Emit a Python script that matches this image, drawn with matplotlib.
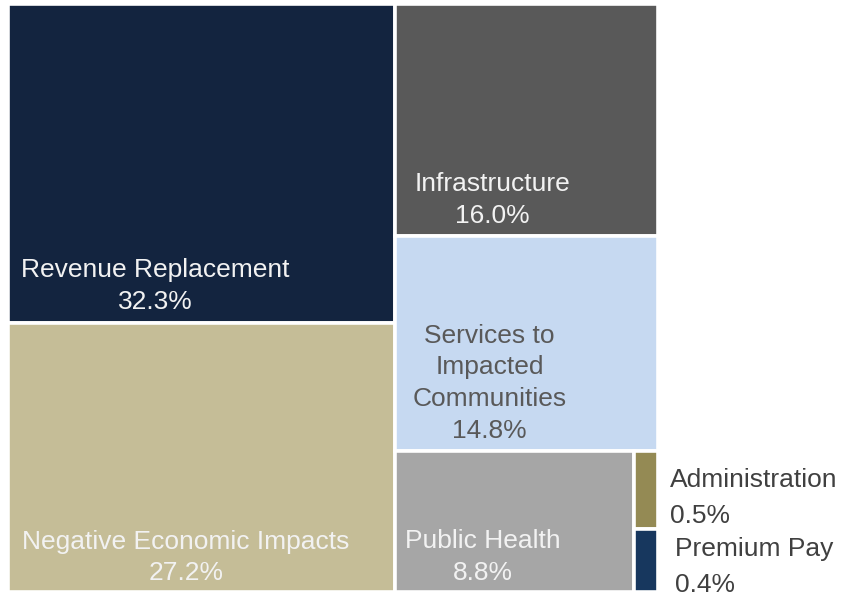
import matplotlib.pyplot as plt
from matplotlib.patches import Rectangle

plt.rcParams['font.family'] = ['Liberation Sans', 'DejaVu Sans']

# share of funds by expenditure category (%)
names = ['Revenue Replacement', 'Negative Economic Impacts', 'Infrastructure',
         'Services to\nImpacted\nCommunities', 'Public Health', 'Administration', 'Premium Pay']
shares = [32.3, 27.2, 16.0, 14.8, 8.8, 0.5, 0.4]
colors = ['#13243f', '#c5bd97', '#595959', '#c6d9f1', '#a6a6a6', '#948a54', '#17375e']
text_colors = ['#f2f2f2', '#f2f2f2', '#f2f2f2', '#595959', '#f2f2f2', '#404040', '#404040']

total = sum(shares)


def layout():
    # slice-and-dice: two columns, right column split into rows, last row split again
    rects = []
    W, H = 100.0, 100.0
    left = shares[0] + shares[1]
    right = total - left
    wl = W * left / total
    wr = W - wl
    # left column (top to bottom)
    y = H
    for v in shares[0:2]:
        h = H * v / left
        rects.append((0, y - h, wl, h))
        y -= h
    # right column
    y = H
    for v in shares[2:4]:
        h = H * v / right
        rects.append((wl, y - h, wr, h))
        y -= h
    bottom = sum(shares[4:])
    hb = y
    wp = wr * shares[4] / bottom
    rects.append((wl, 0, wp, hb))
    small = shares[5] + shares[6]
    y2 = hb
    for v in shares[5:7]:
        h = hb * v / small
        rects.append((wl + wp, y2 - h, wr - wp, h))
        y2 -= h
    return rects


rects = layout()

fig = plt.figure(figsize=(8.43, 5.96), dpi=100)
ax = fig.add_axes([8 / 843, 4 / 596, 650 / 843, 588 / 596])
ax.set_xlim(0, 100)
ax.set_ylim(0, 100)
ax.axis('off')

for (x, y, w, h), c in zip(rects, colors):
    ax.add_patch(Rectangle((x, y), w, h, facecolor=c, edgecolor='white', linewidth=2.6))

# label anchor inside each box (fraction of width, fraction of height from bottom)
anchors = [(0.38, 0.125), (0.46, 0.14), (0.37, 0.17), (0.36, 0.33), (0.37, 0.27)]
for i in range(5):
    x, y, w, h = rects[i]
    ax.text(x + w * anchors[i][0], y + h * anchors[i][1] - 0.5, f'{names[i]}\n{shares[i]:.1f}%',
            ha='center', va='center', fontsize=19, color=text_colors[i], linespacing=1.4)

# the two thin boxes get their labels outside on the right
for i, dx, dy in [(5, 1.8, -1.3), (6, 2.6, -1.1)]:
    x, y, w, h = rects[i]
    ax.text(x + w + dx, y + h * 0.5 + dy, f'{names[i]}\n{shares[i]:.1f}%', ha='left', va='center',
            fontsize=19, color=text_colors[i], linespacing=1.6, clip_on=False)

fig.savefig('out.png', dpi=100)
